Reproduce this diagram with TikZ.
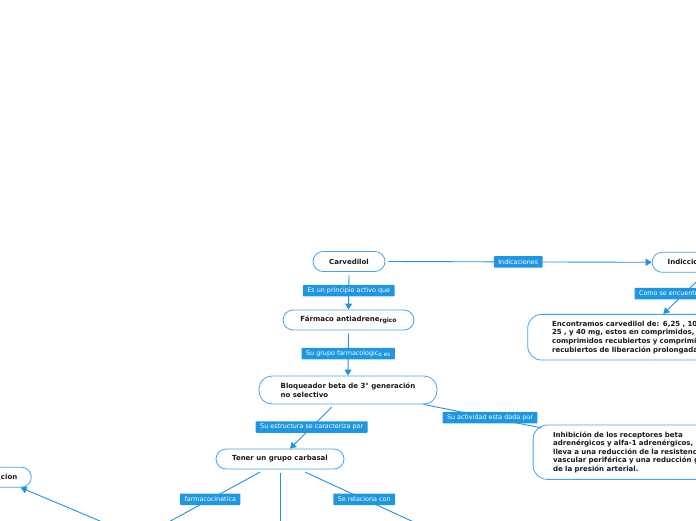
\documentclass[tikz,border=0pt]{standalone}
\usepackage{fontspec}
\setmainfont{DejaVu Sans}
\usetikzlibrary{arrows.meta,positioning}
\definecolor{mapline}{RGB}{33,146,222}
\definecolor{mapedge}{RGB}{70,165,232}
\definecolor{tagfill}{RGB}{30,150,226}
\definecolor{maptext}{RGB}{25,25,25}

\begin{document}
\begin{tikzpicture}[x=1pt,y=-1pt,>={Triangle[length=6pt,width=7pt]},
  concept/.style={draw=mapedge,line width=0.8pt,rounded corners=10pt,fill=white,
    text=maptext,font=\bfseries\fontsize{7}{8.6}\selectfont,minimum height=20pt,inner sep=0pt},
  tag/.style={fill=tagfill,text=white,font=\fontsize{6.4}{7}\selectfont,
    inner xsep=4.5pt,inner ysep=0pt,minimum height=11.5pt,rounded corners=0.8pt},
  link/.style={draw=mapline,line width=0.9pt}]
  \useasboundingbox (0,0) rectangle (696,520);

  % main chain
  \node[concept,minimum width=72pt] (carv) at (349,261.5) {Carvedilol};
  \node[concept,minimum width=131pt] (farm) at (348.5,320)
    {Fármaco antiadrene\raisebox{-1pt}{\fontsize{6}{6}\selectfont rgico}};
  \node[concept,text width=134.6pt,inner xsep=21.7pt,align=left,minimum height=28pt,
    rounded corners=13pt] (bloq) at (348,390)
    {Bloqueador beta de 3° generación\\no selectivo};
  \node[concept,minimum width=128pt] (tener) at (280,459) {Tener un grupo carbasal};

  % nodes cut by the frame
  \node[concept,anchor=east,text width=60pt,inner xsep=14pt,align=right] (cion)
    at (31.7,477.2) {cion};
  \node[concept,anchor=west,text width=76pt,inner xsep=15.6pt,align=left] (indic)
    at (651.7,262.3) {Indiccio};
  \node[concept,anchor=west,text width=150pt,inner xsep=24.4pt,align=left,
    minimum height=45.7pt,rounded corners=14pt] (enc) at (527.3,337.2)
    {Encontramos carvedilol de: 6,25 , 10,\\25 , y 40 mg, estos en comprimidos,\\
     comprimidos recubiertos y comprimi\\recubiertos de liberación prolongada};
  \node[concept,anchor=west,text width=150pt,inner xsep=20pt,align=left,
    minimum height=54.3pt,rounded corners=14pt] (inh) at (532.7,452.2)
    {Inhibición de los receptores beta\\adrenérgicos y alfa-1 adrenérgicos, l\\
     lleva a una reducción de la resistenc\\vascular periférica y una reducción g\\
     de la presión arterial.};

  \coordinate (pkin) at (135.7,540);
  \coordinate (down) at (280,540);
  \coordinate (rel) at (453,540);
  \coordinate (dist) at (145,540);

  % connectors
  \draw[link,->] ([yshift=-3pt]carv.south) --
    node[tag,pos=0.456] {Es un principio activo que} (farm.north);
  \draw[link,->] ([yshift=-3pt]farm.south) --
    node[tag,pos=0.477] {Su grupo farmacologic\raisebox{-0.8pt}{\fontsize{5.8}{6}\selectfont o es}} (bloq.north);
  \draw[link,->] ([xshift=-16.3pt,yshift=-2.7pt]bloq.south) --
    node[tag,pos=0.48] {Su estructura se caracteriza por} ([xshift=10pt]tener.north);
  \draw[link,->] ([xshift=3pt]carv.east) --
    node[tag,pos=0.493] {Indicaciones} (indic.west);
  \draw[link,->] (indic.south) --
    node[tag,pos=0.505,anchor=west,xshift=-50.2pt] {Como se encuentra} ([xshift=136pt]enc.north west);
  \draw[link] ([xshift=-14pt]bloq.south east) --
    node[tag,pos=0.563] {Su actividad esta dada por} ([xshift=9pt,yshift=-3.3pt]inh.north west);

  \draw[link] ([xshift=-20pt,yshift=-2.7pt]tener.south) --
    node[tag,pos=0.40] {farmacocinetica} (pkin);
  \draw[link] ([yshift=-4pt]tener.south) -- (down);
  \draw[link] ([xshift=25pt,yshift=-2.7pt]tener.south) --
    node[tag,pos=0.40] {Se relaciona con} (rel);
  \draw[link,->] (dist) -- ([xshift=-11pt]cion.south east);
\end{tikzpicture}
\end{document}
